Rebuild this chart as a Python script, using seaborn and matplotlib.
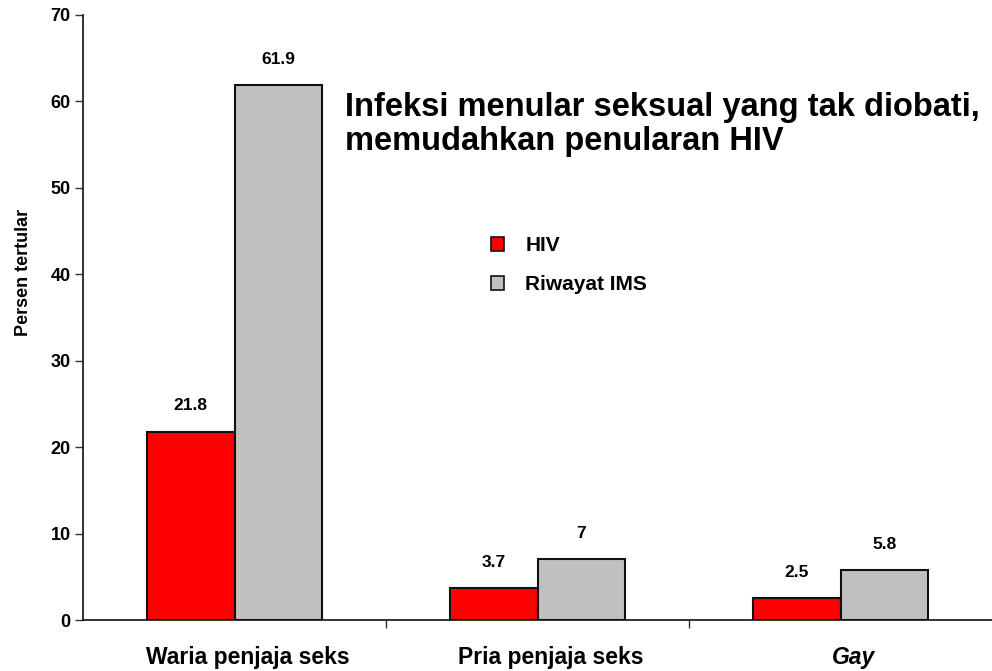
import matplotlib
matplotlib.use('Agg')
import matplotlib.pyplot as plt
import matplotlib.transforms as mtransforms
import seaborn as sns
import pandas as pd

# data
groups = ['Waria penjaja seks', 'Pria penjaja seks', 'Gay']
series = ['HIV', 'Riwayat IMS']
hiv = [21.8, 3.7, 2.5]
ims = [61.9, 7, 5.8]
colors = ['#FF0000', '#C0C0C0']

df = pd.DataFrame({
  'kelompok': groups * 2,
  'seri': [series[0]] * 3 + [series[1]] * 3,
  'nilai': hiv + ims,
})

sns.set_style('white')
plt.rcParams['font.family'] = ['Liberation Sans', 'DejaVu Sans']
plt.rcParams['text.color'] = 'black'
plt.rcParams['axes.labelcolor'] = 'black'
plt.rcParams['xtick.color'] = 'black'
plt.rcParams['ytick.color'] = 'black'

fig = plt.figure(figsize=(9.92, 6.71), dpi=100)
ax = fig.add_axes([0.0837, 0.076, 0.9163, 0.902])

sns.barplot(data=df, x='kelompok', y='nilai', hue='seri', order=groups,
            hue_order=series, palette=colors, width=0.58, saturation=1,
            edgecolor='#111111', linewidth=1.5, errorbar=None, ax=ax, legend=False)

# value labels
for cont in ax.containers:
  for bar in cont:
    h = bar.get_height()
    txt = ('%g' % h)
    ax.annotate(txt, (bar.get_x() + bar.get_width() / 2, h), xytext=(0, 13),
                textcoords='offset points', ha='center', va='bottom',
                fontsize=12.5, fontweight='bold', color='black')

ax.set_ylim(0, 70)
ax.set_xlim(-0.5, 2.5)
ax.set_yticks(range(0, 71, 10))
ax.set_ylabel('Persen tertular', fontsize=13, fontweight='bold')
ax.yaxis.set_label_coords(-0.056, 0.575)
ax.set_xlabel('')

# category labels, drawn a little right of the group centre like the original
ax.set_xticks([0, 1, 2])
ax.set_xticklabels([])
ax.set_xticks([0.5, 1.5], minor=True)
lab_tr = mtransforms.offset_copy(ax.get_xaxis_transform(), fig=fig, x=13, y=-44, units='dots')
for i, g in enumerate(groups):
  ax.text(i, 0, g, transform=lab_tr, ha='center', va='baseline', fontsize=16.5,
          fontweight='bold', style='italic' if g == 'Gay' else 'normal')

ax.tick_params(axis='x', which='major', length=0)
ax.tick_params(axis='x', which='minor', length=6, width=1, color='#333333', direction='out', bottom=True)
ax.tick_params(axis='y', length=6, width=1, color='#333333', direction='out', left=True, labelsize=13, pad=3)
for lab in ax.get_yticklabels():
  lab.set_fontweight('bold')

for s in ['top', 'right']:
  ax.spines[s].set_visible(False)
for s in ['left', 'bottom']:
  ax.spines[s].set_color('#111111')
  ax.spines[s].set_linewidth(1.2)

# legend
handles = [plt.Rectangle((0, 0), 1, 1, facecolor=c, edgecolor='#111111', linewidth=1.2) for c in colors]
fig.legend(handles, series, loc='upper left', bbox_to_anchor=(0.476, 0.676),
           frameon=False, prop={'weight': 'bold', 'size': 15},
           handlelength=0.65, handleheight=0.65, handletextpad=1.0, labelspacing=0.95)

# title text inside plot
fig.text(0.348, 0.863, 'Infeksi menular seksual yang tak diobati,\nmemudahkan penularan HIV',
         fontsize=23.5, fontweight='bold', ha='left', va='top', linespacing=1.12)

fig.savefig('out.png', dpi=100)
